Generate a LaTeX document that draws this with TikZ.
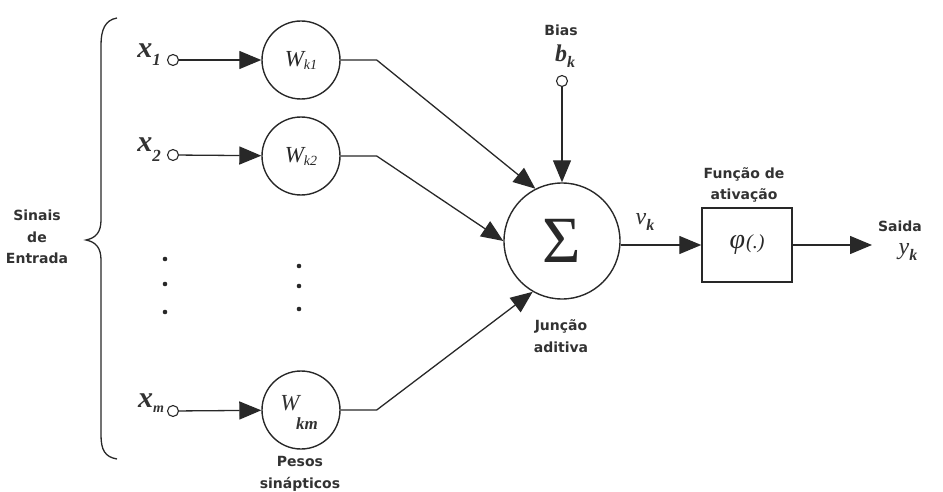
\documentclass[tikz,border=0pt]{standalone}
\usepackage{fontspec}
\setmainfont{Liberation Serif}
\newfontfamily\labfont{DejaVu Sans}
\usetikzlibrary{arrows.meta}
\definecolor{lc}{RGB}{40,40,40}
\definecolor{tc}{RGB}{50,50,50}
\begin{document}
\begin{tikzpicture}[x=1pt,y=-1pt,line width=1.3pt,color=lc,
  arr/.style={-{Triangle[length=22pt,width=18pt]}},
  wnode/.style={circle,draw,minimum size=78pt,inner sep=0pt,line width=1.4pt},
  inp/.style={circle,draw,minimum size=11pt,inner sep=0pt,fill=white,line width=1.1pt},
  lab/.style={font=\labfont\bfseries\fontsize{14}{21.5}\selectfont,text=tc,align=center,inner sep=0pt},
  mth/.style={text=tc,inner sep=0pt},
]
\useasboundingbox (0,0) rectangle (943,492);
% brace
\draw[line width=1.3pt] (117,18) .. controls (105,20) and (101,30) .. (101,45) -- (101,220)
  .. controls (101,232) and (96,238) .. (86,240) .. controls (96,242) and (101,248) .. (101,260)
  -- (101,435) .. controls (101,450) and (105,457) .. (117,459);
\node[lab] (sinais) at (37,237) {Sinais\\de\\Entrada};
% inputs
\node[inp] (in1) at (173,60) {};
\node[inp] (in2) at (173,155) {};
\node[inp] (inm) at (173,411) {};
\node[mth] (x1) at (149,55) {{\fontsize{30}{30}\selectfont\bfseries\itshape x}\raisebox{-8pt}{\fontsize{17}{17}\selectfont\bfseries\itshape 1}};
\node[mth] (x2) at (149,150) {{\fontsize{30}{30}\selectfont\bfseries\itshape x}\raisebox{-10pt}{\fontsize{17}{17}\selectfont\bfseries\itshape 2}};
\node[mth] (xm) at (151,403) {{\fontsize{30}{30}\selectfont\bfseries\itshape x}\raisebox{-5pt}{\fontsize{14}{14}\selectfont\bfseries\itshape m}};
% weights
\node[wnode] (w1) at (301,60) {{\fontsize{23}{23}\selectfont\itshape W}\raisebox{-3pt}{\fontsize{14}{14}\selectfont\itshape k1}};
\node[wnode] (w2) at (301,156) {{\fontsize{23}{23}\selectfont\itshape W}\raisebox{-3pt}{\fontsize{14}{14}\selectfont\itshape k2}};
\node[wnode] (wm) at (301,410) {};
\node[mth] (wmW) at (290,403) {\fontsize{23}{23}\selectfont\itshape W};
\node[mth] (wmkm) at (307,424) {\fontsize{17}{17}\selectfont\bfseries\itshape km};
\draw[arr] (in1) -- (w1);
\draw[arr] (in2) -- (w2);
\draw[arr] (inm) -- (wm);
% dots
\fill (165,259) circle (2.3) (165,284) circle (2.3) (165,312) circle (2.3);
\fill (299,266) circle (2.3) (299,286) circle (2.3) (299,309) circle (2.3);
\node[lab] (pesos) at (300,474) {Pesos\\sinápticos};
% summing junction
\node[circle,draw,minimum size=116pt,inner sep=0pt,line width=1.4pt] (sum) at (562,241) {\fontsize{66}{66}\selectfont Σ};
\draw[arr] (w1.east) -- ++(36,0) -- (sum.117);
\draw[arr] (w2.east) -- ++(36,0) -- (sum.180);
\draw[arr] (wm.east) -- ++(36,0) -- (sum.240);
\node[lab] (junc) at (561,336) {Junção\\aditiva};
% bias
\node[lab] (biaslab) at (561,30) {Bias};
\node[mth] (bk) at (565,56) {{\fontsize{24}{24}\selectfont\bfseries\itshape b}\raisebox{-6pt}{\fontsize{16}{16}\selectfont\bfseries\itshape k}};
\node[inp] (bin) at (562,81) {};
\draw[arr] (bin) -- (sum);
% activation
\node[draw,rectangle,minimum width=90pt,minimum height=74pt,line width=1.4pt] (phi) at (747,245) {{\fontsize{28}{28}\selectfont\itshape φ}\kern1pt{\fontsize{20}{20}\selectfont\itshape (.)}};
\node[lab] (funcao) at (744,185) {Função de\\ativação};
\node[mth] (vk) at (645,222) {{\fontsize{24}{24}\selectfont\itshape v}\raisebox{-6pt}{\fontsize{16}{16}\selectfont\bfseries\itshape k}};
\draw[arr] (sum.east |- phi.west) -- (phi.west);
% output
\coordinate (out) at (872,245);
\draw[arr] (phi.east) -- (out);
\node[lab] (saida) at (900,226) {Saida};
\node[mth] (yk) at (908,252) {{\fontsize{24}{24}\selectfont\itshape y}\raisebox{-6pt}{\fontsize{16}{16}\selectfont\bfseries\itshape k}};
\end{tikzpicture}
\end{document}
